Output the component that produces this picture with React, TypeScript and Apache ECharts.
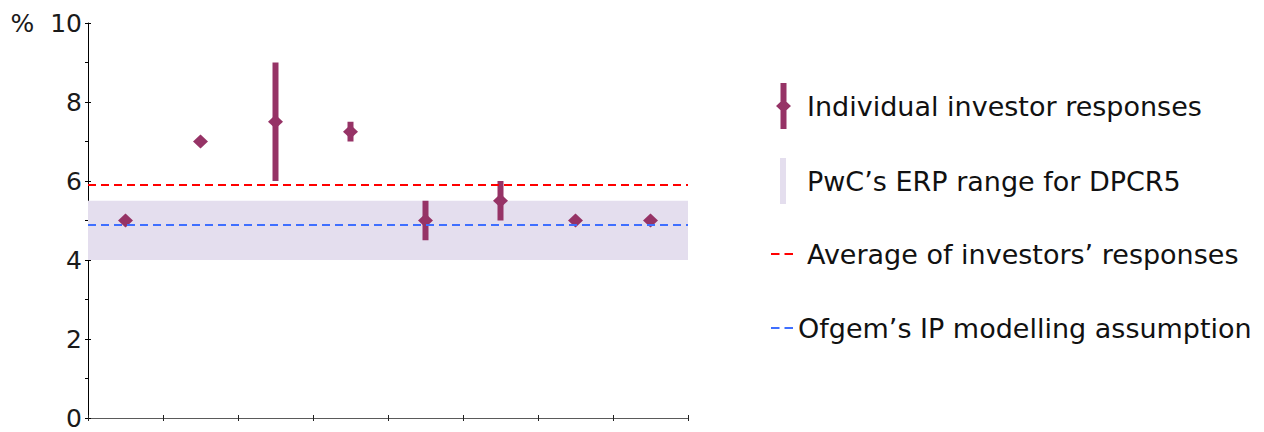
import React, { useEffect, useRef } from "react";
import * as echarts from "echarts";

const categories = ["1", "2", "3", "4", "5", "6", "7", "8"];
const responseMid = [5, 7, 7.5, 7.25, 5, 5.5, 5, 5];
const responseLow = [5, 7, 6, 7, 4.5, 5, 5, 5];
const responseHigh = [5, 7, 9, 7.5, 5.5, 6, 5, 5];
const ercRange = [4, 5.5];
const investorAverage = 5.9;
const ofgemAssumption = 4.9;
const yTicks = [0, 2, 4, 6, 8, 10];

const NAME_RESP = "Individual investor responses";
const NAME_BAND = "PwC\u2019s ERP range for DPCR5";
const NAME_AVG = "Average of investors\u2019 responses";
const NAME_OFG = "Ofgem\u2019s IP modelling assumption";

const PURPLE = "#963366";
const BAND = "#E4DEEE";
const RED = "#FF0000";
const BLUE = "#3F6FFF";
const FONT = "DejaVu Sans";
const DASH_ICON = "path://M0,0h8.5v2h-8.5z M13.5,0h8.5v2h-8.5z";

export default function App() {
  const ref = useRef<HTMLDivElement>(null);
  useEffect(() => {
    if (!ref.current) return;
    const chart = echarts.init(ref.current, null, { renderer: "svg" });
    const yMin = yTicks[0];
    const yMax = yTicks[yTicks.length - 1];
    const yBase = {
      type: "value",
      min: yMin,
      max: yMax,
      interval: yTicks[1] - yTicks[0],
      position: "left",
      splitLine: { show: false },
    };
    const legendText = (padLeft: number) => ({
      fontFamily: FONT,
      fontSize: 27,
      lineHeight: 30,
      color: "#111",
      padding: [0, 0, 0, padLeft],
    });
    const legendItem = (
      name: string,
      icon: string,
      color: string,
      left: number,
      top: number,
      w: number,
      h: number,
      pad: number
    ) => ({
      orient: "vertical",
      left,
      top,
      itemWidth: w,
      itemHeight: h,
      padding: 0,
      selectedMode: false,
      textStyle: legendText(pad),
      data: [{ name, icon, itemStyle: { color } }],
    });
    chart.setOption({
      animation: false,
      grid: { left: 88, right: 576, top: 23, bottom: 14 },
      xAxis: [
        {
          type: "category",
          data: categories,
          position: "bottom",
          boundaryGap: true,
          axisLine: { lineStyle: { color: "#5a5a5a", width: 1 } },
          axisTick: { show: true, inside: false, length: 3, lineStyle: { color: "#222" } },
          axisLabel: { show: false },
        },
        {
          type: "category",
          data: categories,
          position: "bottom",
          boundaryGap: true,
          axisLine: { show: false },
          axisTick: { show: true, inside: true, length: 3, lineStyle: { color: "#222" } },
          axisLabel: { show: false },
        },
      ],
      yAxis: [
        {
          ...yBase,
          axisLine: { show: true, lineStyle: { color: "#000", width: 1 } },
          axisTick: { show: true, inside: false, length: 3, lineStyle: { color: "#000" } },
          minorTick: { show: true, splitNumber: 2, length: 3, lineStyle: { color: "#000" } },
          axisLabel: {
            margin: 6,
            color: "#1a1a1a",
            fontFamily: FONT,
            fontSize: 25,
            lineHeight: 22,
            formatter: (v: number) => (v === yMax ? "%  " + v : String(v)),
          },
        },
        {
          ...yBase,
          axisLine: { show: false },
          axisTick: { show: true, inside: true, length: 3, lineStyle: { color: "#000" } },
          minorTick: { show: false },
          axisLabel: { show: false },
        },
      ],
      legend: [
        legendItem(NAME_RESP, "path://M9,0h6v46h-6z M4.5,23L12,16L19.5,23L12,30z", PURPLE, 776, 83, 15, 46, 11),
        legendItem(NAME_BAND, "path://M0,0h6v46h-6z", BAND, 780, 158, 6, 46, 16),
        legendItem(NAME_AVG, DASH_ICON, RED, 771, 239, 22, 2, 9),
        legendItem(NAME_OFG, DASH_ICON, BLUE, 771, 313, 22, 2, 0),
      ],
      series: [
        {
          name: NAME_BAND,
          type: "line",
          data: [],
          z: 1,
          markArea: {
            silent: true,
            itemStyle: { color: BAND },
            data: [[{ yAxis: ercRange[0] }, { yAxis: ercRange[1] }]],
          },
        },
        {
          name: NAME_AVG,
          type: "line",
          data: [],
          z: 2,
          markLine: {
            silent: true,
            symbol: "none",
            label: { show: false },
            lineStyle: { color: RED, width: 2, type: [8, 5] },
            data: [{ yAxis: investorAverage }],
          },
        },
        {
          name: NAME_OFG,
          type: "line",
          data: [],
          z: 2,
          markLine: {
            silent: true,
            symbol: "none",
            label: { show: false },
            lineStyle: { color: BLUE, width: 2, type: [8, 5] },
            data: [{ yAxis: ofgemAssumption }],
          },
        },
        {
          name: NAME_RESP,
          type: "custom",
          z: 3,
          data: categories.map((_, i) => [i, responseLow[i], responseHigh[i]]),
          renderItem: (params: any, api: any) => {
            const lo = api.coord([api.value(0), api.value(1)]);
            const hi = api.coord([api.value(0), api.value(2)]);
            const h = lo[1] - hi[1];
            if (h <= 0) return null;
            return {
              type: "rect",
              shape: { x: lo[0] - 3, y: hi[1], width: 6, height: h },
              style: { fill: PURPLE },
            };
          },
        },
        {
          name: NAME_RESP,
          type: "scatter",
          z: 4,
          symbol: "diamond",
          symbolSize: [15, 14],
          itemStyle: { color: PURPLE, opacity: 1 },
          data: responseMid,
        },
      ],
    });
    return () => chart.dispose();
  }, []);
  return (
    <div
      ref={ref}
      style={{ position: "fixed", left: 0, top: 0, width: 1264, height: 432, background: "#fff" }}
    />
  );
}
